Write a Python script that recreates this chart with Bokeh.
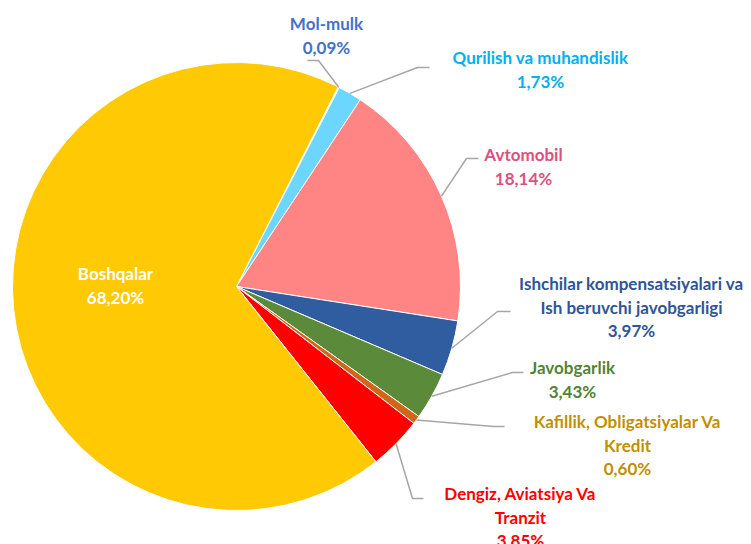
import math
from bokeh.plotting import figure
from bokeh.models import Range1d, ColumnDataSource
from bokeh.core.properties import value
from bokeh.embed import file_html
from bokeh.resources import INLINE

# ---- data ----
categories = [
    "Mol-mulk",
    "Qurilish va muhandislik",
    "Avtomobil",
    "Ishchilar kompensatsiyalari va\nIsh beruvchi javobgarligi",
    "Javobgarlik",
    "Kafillik, Obligatsiyalar Va\nKredit",
    "Dengiz, Aviatsiya Va\nTranzit",
    "Boshqalar",
]
shares = [0.09, 1.73, 18.14, 3.97, 3.43, 0.60, 3.85, 68.20]

# ---- styles ----
slice_colors = ["#A9C4EB", "#6DD6FF", "#FF8585", "#305CA0", "#5B8B3A",
                "#D0661A", "#FF0000", "#FFC903"]
label_colors = ["#4472C4", "#00B0F0", "#D9527E", "#2F5597", "#548235",
                "#BF9000", "#FF0000", "#FFFFFF"]

W, H = 751, 544
CX, CY, R = 236, 286, 224          # pie centre / radius (pixels, y down)
FIRST_ANGLE = 27.0                 # degrees clockwise from 12 o'clock
FONT = "Lato"
FSIZE = "17px"
LINE_H = 23.5

# label layout (pixels, y down): centre x, first-line centre y
label_pos = [(326, 23), (540, 57), (523, 154), (631, 283), (572, 367),
             (627, 421), (520, 493), (115, 273)]
# leader lines: elbow point, end x (None = no leader)
leaders = [((318, 60), 307), ((417, 67), 429), ((466, 158), 478),
           ((497, 311), 510), ((512, 372), 523), ((493, 426), 504),
           ((412, 498), 423), None]

def fy(y):
    return H - y

p = figure(width=W, height=H, output_backend="svg", toolbar_location=None,
           x_range=Range1d(0, W), y_range=Range1d(0, H), min_border=0)
p.axis.visible = False
p.grid.visible = False
p.outline_line_color = None
p.background_fill_color = "white"
p.border_fill_color = "white"

total = sum(shares)
starts, ends, mids = [], [], []
cum = 0.0
for s in shares:
    a0 = FIRST_ANGLE + cum / total * 360.0
    cum += s
    a1 = FIRST_ANGLE + cum / total * 360.0
    starts.append(math.radians(90 - a0))
    ends.append(math.radians(90 - a1))
    mids.append((a0 + a1) / 2)

src = ColumnDataSource(dict(x=[CX] * len(shares), y=[fy(CY)] * len(shares),
                            start=starts, end=ends, color=slice_colors))
p.wedge(x="x", y="y", radius=R, start_angle="start", end_angle="end",
        direction="clock", fill_color="color", line_color="white",
        line_width=1, source=src)

# leader lines
for i, ld in enumerate(leaders):
    if ld is None:
        continue
    m = math.radians(mids[i])
    sx = CX + R * math.sin(m)
    sy = CY - R * math.cos(m)
    (ex, ey), endx = ld
    p.line([sx, ex, endx], [fy(sy), fy(ey), fy(ey)], line_color="#A6A6A6",
           line_width=1.5)

# labels
for i, name in enumerate(categories):
    pct = f"{shares[i]:.2f}".replace(".", ",") + "%"
    lines = name.split("\n") + [pct]
    x0, y0 = label_pos[i]
    p.text(x=[x0] * len(lines), y=[fy(y0 + j * LINE_H) for j in range(len(lines))],
           text=lines, text_align="center", text_baseline="middle",
           text_color=label_colors[i], text_font=value(FONT),
           text_font_size=FSIZE, text_font_style="bold")

open("out.html", "w").write(file_html(p, INLINE))
